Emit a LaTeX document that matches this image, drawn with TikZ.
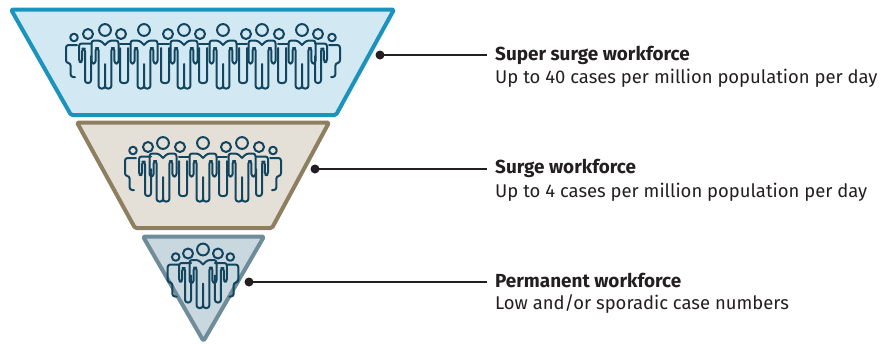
\documentclass[tikz,border=0pt]{standalone}
\usepackage{fontspec}
\setmainfont{Fira Sans}
\definecolor{icon}{HTML}{12455F}
\definecolor{ink}{HTML}{231F20}
\definecolor{topfill}{HTML}{D2E9F3}
\definecolor{topline}{HTML}{1C93BC}
\definecolor{midfill}{HTML}{E4E0D8}
\definecolor{midline}{HTML}{8E7F60}
\definecolor{lowfill}{HTML}{C9D7DE}
\definecolor{lowline}{HTML}{6F8C9A}
\tikzset{
 x=1pt,y=-1pt,
 funnel/.style={line width=4pt,line join=round,rounded corners=1.5pt},
 fig/.style={draw=icon,line width=2pt,line cap=round,line join=round},
 soft/.style={fig,rounded corners=2.6pt},
 dotmark/.style={circle,fill=ink,inner sep=0pt,minimum size=9pt},
 lead/.style={draw=ink,line width=1.1pt},
 headtext/.style={anchor=base west,inner sep=0pt,font=\fontsize{18.9}{20}\selectfont\bfseries,text=ink},
 subtext/.style={anchor=base west,inner sep=0pt,font=\fontsize{18.45}{20}\selectfont,text=ink},
 pics/bigman/.style={code={
  \draw[fig] (0,0) circle[radius=5.9];
  \draw[soft] (0,15) -- (-4.5,10.5) -- (-13.5,10.5) -- (-13.5,33.5) -- (-9.4,33.5) -- (-9.4,18) -- (-6.4,18) -- (-6.4,58.5) -- (0,58.5) -- (0,34);
  \draw[soft] (0,15) -- (4.5,10.5) -- (13.5,10.5) -- (13.5,33.5) -- (9.4,33.5) -- (9.4,18) -- (6.4,18) -- (6.4,58.5) -- (0,58.5) -- (0,54);
 }},
 pics/midman/.style={code={
  \draw[fig] (0,4) circle[radius=5];
  \draw[fig] (-1,13.5) -- (9.5,13.5);
  \draw[soft] (-1,18) -- (-1,53) -- (7,53) -- (7,18);
 }},
 pics/outerman/.style={code={
  \draw[fig] (0,4) circle[radius=5];
  \draw[soft] (3,13.5) -- (-9,13.5) -- (-9,32) -- (-5.8,32) -- (-5.8,18.5) -- (-3,18.5) -- (-3,53) -- (3,53) -- (3,26);
 }},
 pics/edgeman/.style={code={
  \draw[fig] (0,7.5) circle[radius=3.8];
  \draw[soft] (3,15) -- (-8,15) -- (-8,33) -- (-3.4,33) -- (-3.4,47) -- (1,47);
 }},
}
\begin{document}
\begin{tikzpicture}
\useasboundingbox (0,0) rectangle (884,343);
% funnel
\draw[funnel,draw=topline,fill=topfill] (11,9.5) -- (394,9.5) -- (336,115) -- (71,115) -- cycle;
\draw[funnel,draw=midline,fill=midfill] (77,122.5) -- (329,122.5) -- (272,228) -- (135,228) -- cycle;
\draw[funnel,draw=lowline,fill=lowfill] (143,236.5) -- (264,236.5) -- (203.5,341) -- cycle;
% top crowd
\begin{scope}[shift={(105,30)}]
 \foreach \p in {0,39,79,118,157,197} \pic at (\p,0) {bigman};
 \pic at (-17,0) {outerman};
 \pic at (-31,0) {edgeman};
 \pic at (16,0) {midman};
 \pic[xscale=-1] at (63,0) {midman};
 \pic at (95,0) {midman};
 \pic[xscale=-1] at (141,0) {midman};
 \pic at (174,0) {midman};
 \pic[xscale=-1] at (213,0) {outerman};
 \pic[xscale=-1] at (227,0) {edgeman};
\end{scope}
% middle crowd
\begin{scope}[shift={(163,143)}]
 \foreach \p in {0,40,79} \pic at (\p,0) {bigman};
 \pic at (-15,0) {outerman};
 \pic at (-30,0) {edgeman};
 \pic at (17,0) {midman};
 \pic[xscale=-1] at (63,0) {midman};
 \pic[xscale=-1] at (96,0) {outerman};
 \pic[xscale=-1] at (110,0) {edgeman};
\end{scope}
% lower crowd
\begin{scope}[shift={(203,249.5)},scale=.88]
 \pic at (0,0) {bigman};
 \pic at (-17,0) {outerman};
 \pic at (-31,0) {edgeman};
 \pic[xscale=-1] at (17,0) {outerman};
 \pic[xscale=-1] at (31,0) {edgeman};
\end{scope}
% dots, connectors, labels
\node[dotmark] (d1) at (380,55) {};
\node[dotmark] (d2) at (315,169) {};
\node[dotmark] (d3) at (249,282) {};
\coordinate (e1) at (487,55);
\coordinate (e2) at (487,169);
\coordinate (e3) at (487,282);
\draw[lead] (d1.center) -- (e1);
\draw[lead] (d2.center) -- (e2);
\draw[lead] (d3.center) -- (e3);
\node[headtext] (h1) at (495,60.5) {Super surge workforce};
\node[subtext] (s1) at (495,83) {Up to 40 cases per million population per day};
\node[headtext] (h2) at (495,173.5) {Surge workforce};
\node[subtext] (s2) at (495,197) {Up to 4 cases per million population per day};
\node[headtext] (h3) at (495,287.5) {Permanent workforce};
\node[subtext] (s3) at (495,309) {Low and/or sporadic case numbers};
\end{tikzpicture}
\end{document}
